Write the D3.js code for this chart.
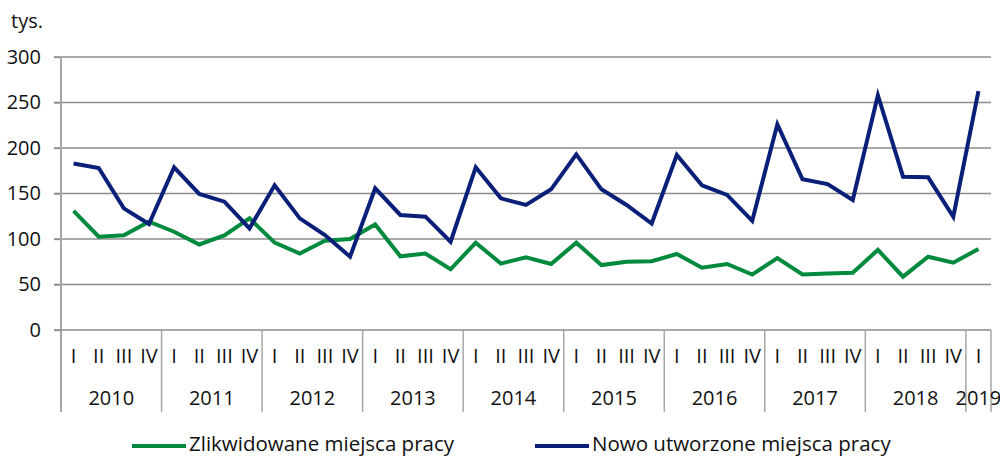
<!DOCTYPE html>
<html><head><meta charset="utf-8">
<script src="https://cdn.jsdelivr.net/npm/d3@7"></script>
<style>body{margin:0;background:#fff}svg{display:block}text{font-family:"Open Sans",sans-serif;fill:#111}</style>
</head><body><svg id="c" width="1000" height="458"></svg>
<script>
const years = ["2010","2011","2012","2013","2014","2015","2016","2017","2018","2019"];
const quarters = ["I","II","III","IV"];
const yTicks = [0,50,100,150,200,250,300];
const seriesNames = ["Zlikwidowane miejsca pracy","Nowo utworzone miejsca pracy"];
const liquidated = [131,102.5,104,119, 108,94,104,122.7, 96,84,98,100, 116,81,84,66.7, 96,73,80,72.5, 96,71.4,75,75.5, 83.5,68.5,72.5,61, 79,61,62,63, 88,58.6,80.5,74, 89];
const created = [183,178,133.7,116.5, 178.8,149.5,141,111.7, 159,122.7,104.4,80.6, 155.7,126.4,124.5,97, 178.8,144.7,137.4,154.6, 193,154.6,137.4,117, 192.3,159,148.4,120, 226,165.6,160.4,142.9, 258,168.5,167.8,124.5, 262.6];

const cats = [];
years.forEach(y => quarters.forEach(q => { if (cats.length < liquidated.length) cats.push({y, q, k: y + "-" + q}); }));

const svg = d3.select("#c");
const L = 61, R = 991, T = 57, B = 330;
const FS = 20;
const x = d3.scaleBand().domain(cats.map(d => d.k)).range([L, R]).padding(0);
const y = d3.scaleLinear().domain([0,300]).range([B, T]);
const grid = "#8c8c8c", axisC = "#a6a6a6";

svg.append("g").selectAll("line").data(yTicks.filter(d => d > 0)).join("line")
  .attr("x1", L - 7).attr("x2", R).attr("y1", d => y(d)).attr("y2", d => y(d))
  .attr("stroke", grid).attr("stroke-width", 1.3);
const ya = svg.append("g").attr("transform", `translate(${L},0)`)
  .call(d3.axisLeft(y).tickValues(yTicks).tickSize(7).tickPadding(13));
ya.select(".domain").remove();
ya.selectAll(".tick line").attr("stroke", grid).attr("stroke-width", 1.3);
ya.selectAll(".tick text").attr("font-size", FS).attr("font-family", "Open Sans").attr("fill", "#111");
svg.append("line").attr("x1", L).attr("x2", L).attr("y1", T).attr("y2", 412).attr("stroke", axisC).attr("stroke-width", 2);
svg.append("text").attr("x", 11).attr("y", 28).attr("font-size", FS).text("tys.");

svg.append("line").attr("x1", L - 7).attr("x2", R).attr("y1", B).attr("y2", B).attr("stroke", grid).attr("stroke-width", 1.3);

const yearStarts = years.map(yr => cats.findIndex(c => c.y === yr));
const sepX = yearStarts.slice(1).map(i => x(cats[i].k)).concat([x(cats[cats.length-1].k) + x.bandwidth()]);
svg.append("g").selectAll("line").data(sepX).join("line")
  .attr("x1", d => d).attr("x2", d => d).attr("y1", B).attr("y2", 412)
  .attr("stroke", axisC).attr("stroke-width", 1.5);

svg.append("g").selectAll("text").data(cats).join("text")
  .attr("x", d => x(d.k) + x.bandwidth()/2).attr("y", 363).attr("text-anchor", "middle")
  .attr("font-size", FS).text(d => d.q);
svg.append("g").selectAll("text").data(years).join("text")
  .attr("x", yr => { const c = cats.filter(d => d.y === yr); return (x(c[0].k) + x(c[c.length-1].k) + x.bandwidth())/2; })
  .attr("y", 405).attr("text-anchor", "middle").attr("font-size", FS).text(d => d);

const colors = ["#008a3e", "#0a1f78"];
[liquidated, created].forEach((vals, i) => {
  svg.append("path").datum(vals)
    .attr("d", d3.line().x((d, j) => x(cats[j].k) + x.bandwidth()/2).y(d => y(d)))
    .attr("fill", "none").attr("stroke", colors[i]).attr("stroke-width", 4).attr("stroke-linejoin", "miter");
});

const legX = [132, 535];
seriesNames.forEach((n, i) => {
  svg.append("line").attr("x1", legX[i]).attr("x2", legX[i] + 54).attr("y1", 446).attr("y2", 446)
    .attr("stroke", colors[i]).attr("stroke-width", 4);
  svg.append("text").attr("x", legX[i] + 57).attr("y", 451).attr("font-size", 20.5).text(n);
});
</script></body></html>
